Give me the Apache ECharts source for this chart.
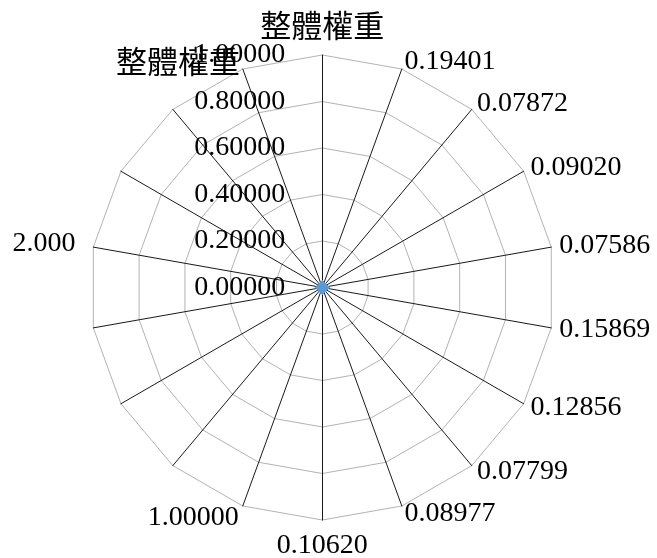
<!DOCTYPE html>
<html>
<head>
<meta charset="utf-8">
<script src="https://cdn.jsdelivr.net/npm/echarts@6/dist/echarts.min.js"></script>
<style>
html,body{margin:0;padding:0;background:#fff;}
#chart{width:657px;height:558px;}
</style>
</head>
<body>
<div id="chart"></div>
<script>
// Categories in clockwise order starting from the top spoke
var categories = ['整體權重', '0.19401', '0.07872', '0.09020', '0.07586', '0.15869',
  '0.12856', '0.07799', '0.08977', '0.10620', '1.00000', '', '', '', '2.000', '', '', '整體權重'];
// Series values (all at zero), same clockwise order
var seriesValues = [0, 0, 0, 0, 0, 0, 0, 0, 0, 0, 0, 0, 0, 0, 0, 0, 0, 0];
// Radial axis ticks
var tickValues = [0, 0.2, 0.4, 0.6, 0.8, 1.0];

var FONT = '"Liberation Serif", "Noto Sans CJK TC", serif';
var gapOverrides = { '2.000': 18, '0.10620': 12, '1.00000': 12 };

// ECharts lays indicators counter-clockwise; reorder so the picture reads clockwise
var order = [0];
for (var i = categories.length - 1; i >= 1; i--) order.push(i);

var indicator = order.map(function (idx, k) {
  var ind = { name: categories[idx], min: tickValues[0], max: tickValues[tickValues.length - 1] };
  if (k === 0) {
    ind.axisLabel = {
      show: true,
      margin: 37,
      color: '#000',
      fontSize: 28,
      fontFamily: FONT,
      formatter: function (v) { return Number(v).toFixed(5); }
    };
  }
  if (gapOverrides[categories[idx]] != null) ind.nameGap = gapOverrides[categories[idx]];
  return ind;
});
var values = order.map(function (idx) { return seriesValues[idx]; });

var chart = echarts.init(document.getElementById('chart'), null, { renderer: 'canvas' });
chart.setOption({
  animation: false,
  backgroundColor: '#fff',
  radar: {
    center: [322.3, 287.5],
    radius: 232.5,
    startAngle: 90,
    splitNumber: tickValues.length - 1,
    shape: 'polygon',
    indicator: indicator,
    nameGap: 8,
    axisName: {
      color: '#000',
      fontSize: 28,
      fontFamily: FONT,
      formatter: function (name) {
        return /[\u4e00-\u9fff]/.test(name) ? '{cjk|' + name + '}' : name;
      },
      rich: {
        cjk: { fontSize: 31, fontFamily: '"Noto Sans CJK TC", sans-serif', color: '#000' }
      }
    },
    axisLine: { show: true, lineStyle: { color: '#1a1a1a', width: 1 } },
    axisTick: { show: false },
    axisLabel: { show: false },
    splitLine: { show: true, lineStyle: { color: '#b3b3b3', width: 1 } },
    splitArea: { show: false }
  },
  series: [{
    type: 'radar',
    symbol: 'diamond',
    symbolSize: 14,
    itemStyle: { color: '#5B9BD5' },
    lineStyle: { color: '#5B9BD5', width: 2.25 },
    data: [{ value: values, name: '整體權重' }]
  }]
});
</script>
</body>
</html>
